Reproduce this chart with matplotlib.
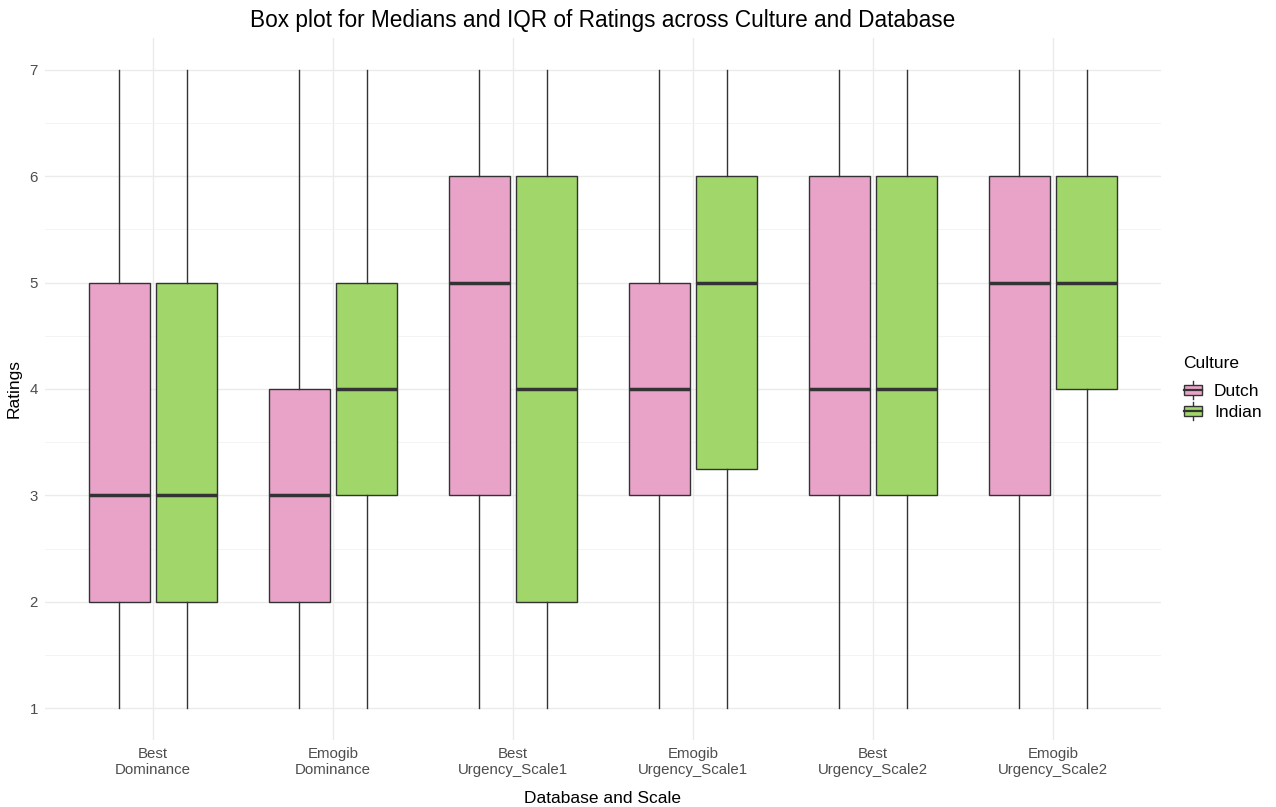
import numpy as np
import matplotlib.pyplot as plt
from matplotlib.patches import Rectangle
from matplotlib.lines import Line2D
from matplotlib.legend_handler import HandlerBase

plt.rcParams['font.family'] = ['Liberation Sans', 'DejaVu Sans']

# ----------------------------------------------------------
# Box summaries per database/scale and culture
# ----------------------------------------------------------

groups = ["Best\nDominance", "Emogib\nDominance", "Best\nUrgency_Scale1",
          "Emogib\nUrgency_Scale1", "Best\nUrgency_Scale2", "Emogib\nUrgency_Scale2"]
cultures = ["Dutch", "Indian"]
colors = {"Dutch": "#E9A3C9", "Indian": "#A1D76A"}

# (whislo, q1, median, q3, whishi)
dutch = [(1, 2, 3, 5, 7), (1, 2, 3, 4, 7), (1, 3, 5, 6, 7),
         (1, 3, 4, 5, 7), (1, 3, 4, 6, 7), (1, 3, 5, 6, 7)]
indian = [(1, 2, 3, 5, 7), (1, 3, 4, 5, 7), (1, 2, 4, 6, 7),
          (1, 3.25, 5, 6, 7), (1, 3, 4, 6, 7), (1, 4, 5, 6, 7)]
summaries = {"Dutch": dutch, "Indian": indian}

# ----------------------------------------------------------
# Figure
# ----------------------------------------------------------

W, H = 1276, 807
fig = plt.figure(figsize=(W / 100, H / 100), dpi=100)
ax = fig.add_axes([45 / W, (H - 740) / H, (1161 - 45) / W, (740 - 38) / H])

edge = "#333333"
dodge = 0.375
box_w = dodge * 0.9
x = np.arange(1, len(groups) + 1)

for k, cult in enumerate(cultures):
    offset = (k - 0.5) * dodge
    stats = []
    for s in summaries[cult]:
        stats.append(dict(whislo=s[0], q1=s[1], med=s[2], q3=s[3], whishi=s[4]))
    ax.bxp(stats, positions=x + offset, widths=box_w, patch_artist=True,
           showfliers=False, showcaps=False, zorder=3,
           boxprops=dict(facecolor=colors[cult], edgecolor=edge, linewidth=1.0),
           whiskerprops=dict(color=edge, linewidth=1.0),
           medianprops=dict(color=edge, linewidth=2.5, solid_capstyle='butt'))

ax.set_xlim(0.4, 6.6)
ax.set_ylim(0.7, 7.3)
ax.set_xticks(x)
ax.set_xticklabels(groups)
ax.set_yticks(range(1, 8))
ax.set_yticks(np.arange(1.5, 7, 1), minor=True)

ax.grid(True, which='major', color='#EBEBEB', linewidth=1.0, zorder=0)
ax.grid(True, which='minor', axis='y', color='#F2F2F2', linewidth=0.6, zorder=0)
ax.set_axisbelow(True)
for sp in ax.spines.values():
    sp.set_visible(False)
ax.tick_params(which='both', length=0, labelsize=10.8, colors='#4D4D4D', pad=5)

ax.set_xlabel("Database and Scale", fontsize=12.5, labelpad=10)
ax.set_ylabel("Ratings", fontsize=12.5, labelpad=6)
ax.set_title("Box plot for Medians and IQR of Ratings across Culture and Database",
             fontsize=16.3, pad=8)


# legend keys drawn as little boxplots
class BoxKey(HandlerBase):
    def create_artists(self, legend, orig_handle, xdescent, ydescent,
                       width, height, fontsize, trans):
        cx = width / 2 - xdescent
        bw = width * 0.85
        rect = Rectangle((cx - bw / 2, -ydescent + height * 0.15), bw, height * 0.7,
                         facecolor=orig_handle.get_facecolor(), edgecolor=edge,
                         linewidth=1.0, transform=trans)
        med = Line2D([cx - bw / 2, cx + bw / 2], [height / 2 - ydescent] * 2,
                     color=edge, linewidth=1.6, transform=trans)
        wl = Line2D([cx, cx], [-ydescent - height * 0.1, -ydescent + height * 0.15],
                    color=edge, linewidth=1.0, transform=trans)
        wh = Line2D([cx, cx], [-ydescent + height * 0.85, -ydescent + height * 1.1],
                    color=edge, linewidth=1.0, transform=trans)
        return [wl, wh, rect, med]


handles = [Rectangle((0, 0), 1, 1, facecolor=colors[c]) for c in cultures]
leg = fig.legend(handles, cultures, title="Culture", loc='center left',
                 bbox_to_anchor=(1167 / W, 1 - 388 / H), frameon=False,
                 fontsize=12.5, title_fontsize=12.5, handler_map={Rectangle: BoxKey()},
                 handlelength=1.2, handleheight=1.0, handletextpad=0.6,
                 labelspacing=0.25)
leg._legend_box.align = "left"
leg._legend_box.sep = 8

fig.savefig("out.png", dpi=100)
